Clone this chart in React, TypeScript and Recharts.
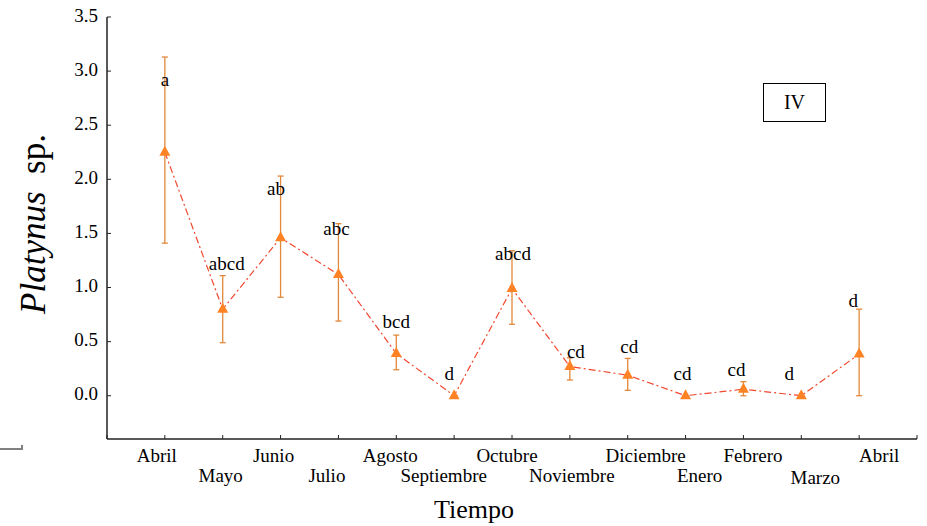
import React from 'react';
import { ComposedChart, Line, Scatter, XAxis, YAxis, ErrorBar } from 'recharts';

const months = ['Abril', 'Mayo', 'Junio', 'Julio', 'Agosto', 'Septiembre', 'Octubre', 'Noviembre', 'Diciembre', 'Enero', 'Febrero', 'Marzo', 'Abril'];
const means = [2.25, 0.8, 1.46, 1.12, 0.39, 0, 0.99, 0.27, 0.19, 0, 0.06, 0, 0.385];
const upper = [3.13, 1.11, 2.03, 1.59, 0.56, 0, 1.34, 0.35, 0.345, 0, 0.13, 0, 0.8];
const lower = [1.41, 0.49, 0.91, 0.69, 0.24, 0, 0.66, 0.145, 0.05, 0, 0, 0, 0];
const letters = ['a', 'abcd', 'ab', 'abc', 'bcd', 'd', 'abcd', 'cd', 'cd', 'cd', 'cd', 'd', 'd'];
const letterY = [2.91, 1.21, 1.9, 1.53, 0.675, 0.19, 1.3, 0.395, 0.44, 0.19, 0.23, 0.19, 0.87];
const yTicks = [0, 0.5, 1, 1.5, 2, 2.5, 3, 3.5];
const xTicks = [0, 1, 2, 3, 4, 5, 6, 7, 8, 9, 10, 11, 12, 13, 14];

// small visual nudges (style only)
const labelDx = [-8, -2, -7, -11.5, -6, -10.5, -5, 2, 18, 14, 9.5, 14, 20];
const labelDy = [0, 0, 0, 0, 0, 0, 0, 0, 0, 0, 0, 2, 0];
const letterDx = [0, 4, -4.5, -2, 0, -5, 1, 6, 1.5, -3, -7, -12, -6];

const FONT = '"Liberation Serif", "Times New Roman", serif';

const data = months.map((m, i) => ({
  x: i + 1,
  month: m,
  mean: means[i],
  err: [means[i] - lower[i], upper[i] - means[i]],
  ly: letterY[i],
  letter: letters[i],
}));

const Tri = (p: any) => {
  const { cx, cy, index } = p;
  if (cx == null || cy == null) return null;
  return (
    <polygon
      key={'t' + index}
      points={`${cx},${cy - 6.5} ${cx - 5.5},${cy + 3.5} ${cx + 5.5},${cy + 3.5}`}
      fill="#ff8324"
    />
  );
};

const LetterShape = (p: any) => {
  const { cx, cy, payload } = p;
  const i = payload.x - 1;
  return (
    <text x={cx + letterDx[i]} y={cy + 5} textAnchor="middle" fontFamily={FONT} fontSize={19} fill="#000">
      {payload.letter}
    </text>
  );
};

const XTick = (p: any) => {
  const { x, y, payload } = p;
  const v = payload.value;
  if (v < 1 || v > 13) return null;
  const i = v - 1;
  const by = (i % 2 === 0 ? 27 : 47) + labelDy[i];
  return (
    <text x={x + labelDx[i]} y={y + by} textAnchor="middle" fontFamily={FONT} fontSize={19} fill="#000">
      {months[i]}
    </text>
  );
};

const YTick = (p: any) => {
  const { x, y, payload } = p;
  return (
    <text x={x} y={y - 2} dy="0.355em" textAnchor="end" fontFamily={FONT} fontSize={19} fill="#000">
      {payload.value.toFixed(1)}
    </text>
  );
};

const YLabel = () => (
  <text transform="translate(45,224) rotate(-90)" textAnchor="middle" fontFamily={FONT} fontSize={35} fill="#000">
    <tspan fontStyle="italic">Platynus</tspan>
    <tspan>{'\u00a0 sp.'}</tspan>
  </text>
);

const XLabel = () => (
  <text x={474} y={518} textAnchor="middle" fontFamily={FONT} fontSize={26} fill="#000">
    Tiempo
  </text>
);

export default function App() {
  return (
    <div style={{ position: 'absolute', left: 0, top: 0, width: 927, height: 526, background: '#fff' }}>
      <ComposedChart
        width={927}
        height={526}
        data={data}
        margin={{ top: 17, right: 10, bottom: 27, left: 47 }}
      >
        <XAxis
          dataKey="x"
          type="number"
          domain={[0, 14]}
          ticks={xTicks}
          interval={0}
          tick={<XTick />}
          tickSize={-4}
          tickMargin={0}
          height={60}
          axisLine={{ stroke: '#222', strokeWidth: 1.5 }}
          tickLine={{ stroke: '#222', strokeWidth: 1 }}
          label={<XLabel />}
        />
        <YAxis
          type="number"
          domain={[-0.4, 3.5]}
          allowDataOverflow
          ticks={yTicks}
          interval={0}
          tick={<YTick />}
          tickSize={-4}
          tickMargin={13}
          width={60}
          axisLine={{ stroke: '#222', strokeWidth: 1.5 }}
          tickLine={{ stroke: '#222', strokeWidth: 1 }}
          label={<YLabel />}
        />
        <Line
          dataKey="mean"
          stroke="#f2472f"
          strokeWidth={1.2}
          strokeDasharray="7 3 2 3"
          dot={<Tri />}
          activeDot={false}
          isAnimationActive={false}
        >
          <ErrorBar dataKey="err" direction="y" width={3} stroke="#e2883a" strokeWidth={1.3} />
        </Line>
        <Scatter dataKey="ly" shape={<LetterShape />} isAnimationActive={false} />
      </ComposedChart>
      <div
        style={{
          position: 'absolute',
          left: 763,
          top: 83,
          width: 61,
          height: 37,
          border: '1.5px solid #000',
          fontFamily: FONT,
          fontSize: 20,
          lineHeight: '37px',
          textAlign: 'center',
          color: '#000',
        }}
      >
        IV
      </div>
      <div style={{ position: 'absolute', left: 0, top: 448, width: 22, height: 0, borderTop: '2px solid #808080' }} />
      <div style={{ position: 'absolute', left: 21, top: 445, width: 0, height: 5, borderLeft: '2px solid #808080' }} />
    </div>
  );
}
